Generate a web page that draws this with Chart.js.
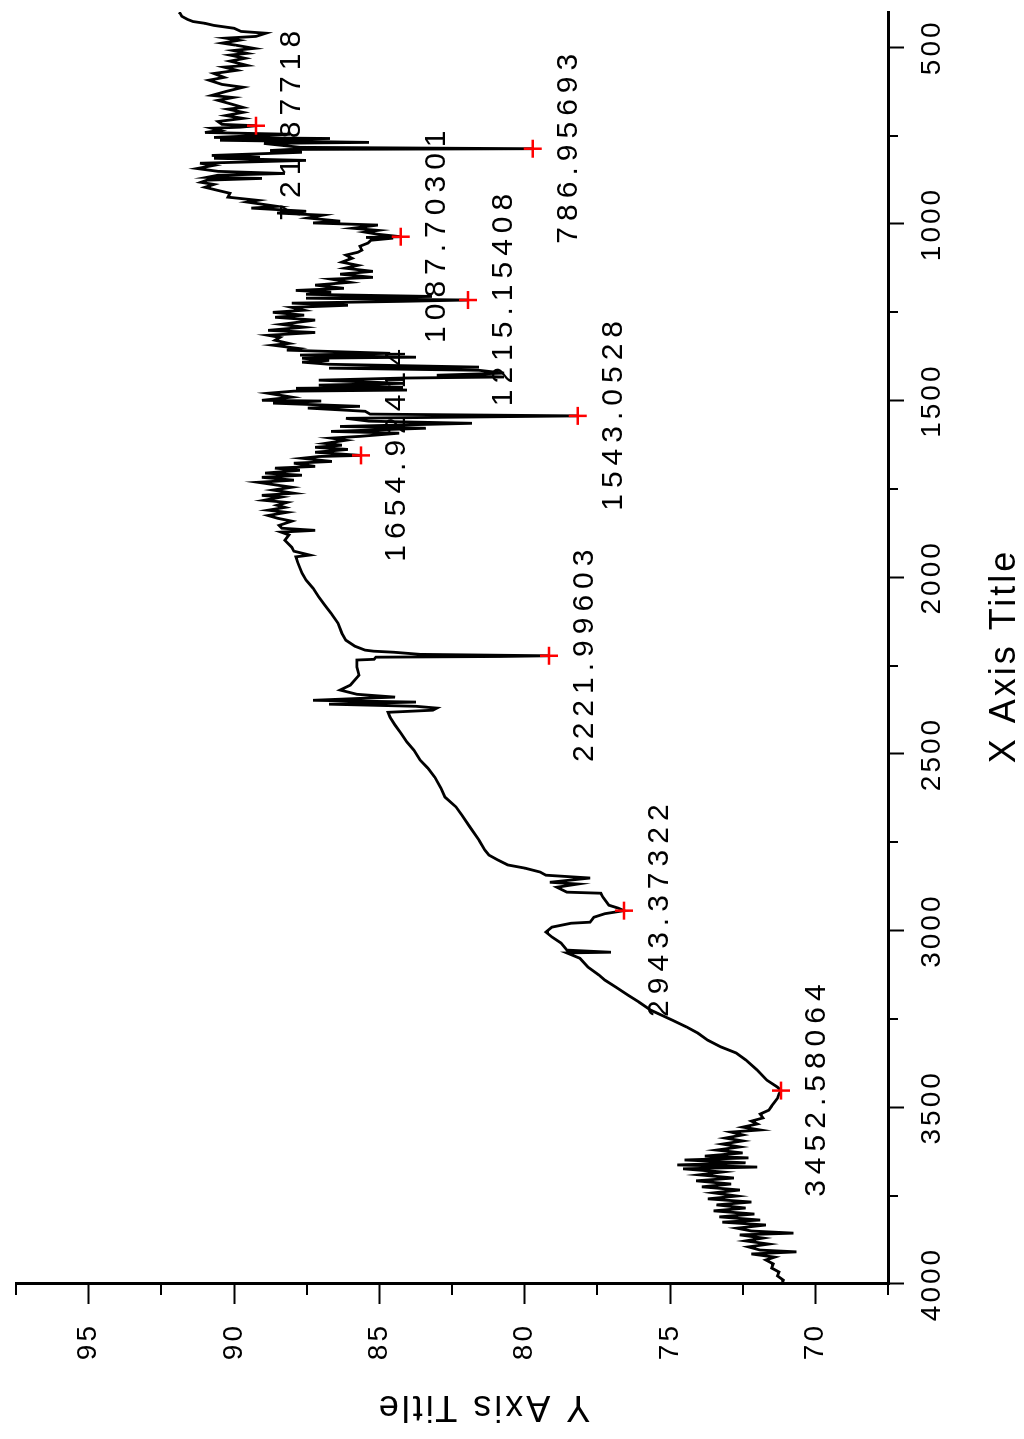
<!DOCTYPE html>
<html>
<head>
<meta charset="utf-8">
<script src="https://cdn.jsdelivr.net/npm/chart.js@4.4.1/dist/chart.umd.min.js"></script>
<style>
  html, body { margin: 0; padding: 0; width: 1024px; height: 1439px; background: #fff; overflow: hidden; }
  /* the chart is drawn in landscape and turned a quarter turn counter-clockwise */
  #wrap { position: absolute; left: 0; top: 0; width: 1439px; height: 1024px;
          transform-origin: 0 0; transform: translateY(1439px) rotate(-90deg); }
  canvas { display: block; }
</style>
</head>
<body>
<div id="wrap"><canvas id="spectrum" width="1439" height="1024"></canvas></div>
<script>
// IR spectrum, wavenumber (cm-1) vs transmittance (%)
const wavenumber = [
  4000,3989,3977,3966,3955,3943,3932,3924,3915,3909,
  3904,3895,3887,3878,3870,3861,3856,3850,3842,3833,
  3825,3819,3810,3802,3793,3785,3776,3768,3759,3751,
  3742,3734,3725,3717,3708,3700,3691,3683,3674,3669,
  3663,3657,3649,3643,3638,3629,3621,3612,3604,3595,
  3587,3578,3570,3564,3556,3547,3539,3530,3519,3508,
  3496,3485,3474,3462,3452.58,3443,3423,3394,3366,3346,
  3329,3310,3290,3273,3253,3225,3202,3182,3160,3140,
  3126,3103,3078,3063,3061,3055,3035,3018,3004,2990,
  2979,2976,2962,2952,2943.37,2936,2928,2905,2894,2891,
  2877,2868,2863,2851,2843,2834,2823,2814,2800,2786,
  2772,2744,2707,2673,2650,2622,2597,2566,2540,2517,
  2489,2466,2441,2418,2396,2382,2376,2370,2365,2359,
  2353,2348,2342,2339,2331,2319,2305,2277,2254,2234,
  2232,2226,2224,2222,2218,2212,2209,2206,2195,2178,
  2158,2130,2102,2079,2056,2031,2008,1988,1960,1942,
  1937,1926,1915,1895,1880,1872,1867,1861,1853,1841,
  1833,1825,1816,1810,1802,1796,1788,1782,1773,1768,
  1762,1753,1745,1739,1731,1725,1717,1711,1705,1697,
  1691,1686,1677,1672,1663,1658,1654.9,1646,1638,1632,
  1626,1621,1612,1606,1601,1592,1587,1578,1573,1564,
  1558,1550,1543.05,1538,1530,1521,1516,1507,1501,1499,
  1490,1479,1473,1470,1465,1462,1456,1451,1442,1436,
  1433,1428,1422,1414,1408,1405,1397,1391,1386,1380,
  1377,1371,1366,1357,1352,1343,1338,1329,1321,1315,
  1307,1301,1292,1284,1272,1264,1258,1250,1244,1236,
  1230,1224,1219,1215.15,1210,1205,1199,1193,1188,1182,
  1173,1165,1156,1151,1142,1134,1125,1117,1108,1097,
  1088,1080,1074,1063,1054,1046,1040,1038,1036,1029,
  1023,1018,1012,1003,997,992,983,975,969,964,
  955,950,938,933,924,913,905,896,888,882,
  876,871,868,862,857,851,843,834,828,820,
  814,811,806,797,792,789,786.96,783,772,769,
  763,758,755,746,741,735,729,726,721.88,718,
  710,701,693,684,675,670,661,650,642,636,
  625,613,605,593,585,574,565,556,551,539,
  531,522,517,509,503,494,488,480,474,469,
  460,455,446,438,432,427,421,412,404,401
]
const transmittance = [
  71.15,71.10,71.30,71.25,71.50,71.45,71.70,71.40,72.20,70.65,
  71.90,72.30,71.60,72.40,71.80,72.60,70.75,72.20,72.70,71.70,
  73.20,71.90,73.30,72.10,73.50,72.40,73.40,72.20,73.70,72.70,
  73.50,72.60,73.90,72.90,74.10,72.80,74.00,73.20,74.55,72.00,
  74.75,72.40,74.50,72.30,73.80,72.50,73.40,72.60,73.20,72.50,
  73.10,72.50,72.90,71.90,72.50,72.00,72.20,71.80,71.90,71.60,
  71.50,71.40,71.30,71.25,71.18,71.30,71.67,72.01,72.39,72.73,
  73.25,73.70,74.04,74.42,74.93,75.66,76.07,76.45,76.86,77.24,
  77.44,77.82,78.10,78.55,77.03,78.55,78.75,79.06,79.27,79.06,
  78.41,77.75,77.62,77.24,76.58,76.79,77.10,77.31,77.38,78.55,
  78.89,78.17,79.13,77.75,79.27,79.47,79.99,80.58,80.92,81.23,
  81.37,81.57,81.88,82.16,82.36,82.74,82.88,83.09,83.33,83.60,
  83.81,84.05,84.26,84.46,84.63,84.70,83.16,83.02,83.74,86.73,
  83.74,87.28,85.49,84.46,85.77,86.35,86.00,85.70,85.77,85.77,
  85.18,85.12,80.85,79.16,83.60,84.50,85.20,85.49,85.84,86.15,
  86.29,86.42,86.66,86.87,87.08,87.28,87.52,87.66,87.80,87.87,
  87.39,87.94,88.01,88.25,88.11,88.38,87.21,88.35,88.45,88.01,
  88.49,88.83,88.18,88.83,88.25,88.52,88.18,88.97,88.38,89.04,
  87.94,88.66,88.01,88.52,89.18,87.94,89.04,87.66,88.93,87.73,
  88.59,87.21,87.94,86.63,87.66,87.08,85.63,87.21,86.08,87.21,
  86.29,86.87,86.15,86.66,85.67,84.32,86.66,83.40,86.35,81.81,
  85.36,86.15,78.17,85.32,85.49,87.46,85.67,88.66,87.00,89.04,
  88.01,88.83,87.94,84.05,87.87,84.19,87.08,84.19,87.08,84.19,
  80.71,83.02,80.71,81.57,86.73,81.57,86.73,87.66,86.73,87.66,
  83.74,87.73,84.63,88.18,87.80,88.66,88.11,88.59,88.42,88.83,
  87.21,88.83,87.59,88.38,87.21,88.59,87.59,88.66,87.59,88.01,
  86.08,88.01,84.29,81.95,87.52,83.19,87.52,86.66,87.87,86.22,
  87.21,86.01,86.66,85.22,86.35,85.22,86.18,85.74,86.29,85.94,
  86.15,85.74,85.60,85.67,85.39,85.29,84.53,85.46,84.26,85.05,
  85.49,85.05,85.91,85.05,87.28,86.35,87.46,86.94,88.52,87.52,
  89.40,88.52,89.54,89.18,90.21,90.14,90.55,91.00,90.69,91.14,
  90.93,89.04,90.93,90.55,88.25,90.55,91.27,90.69,91.17,87.52,
  90.69,89.11,90.76,87.66,88.76,88.07,79.72,87.73,88.97,85.36,
  90.48,86.70,90.69,88.07,91.00,90.48,90.76,89.79,89.24,90.41,
  90.55,89.69,90.28,89.69,90.21,89.69,90.07,90.55,90.03,90.76,
  90.28,89.69,90.41,90.86,90.34,90.69,89.90,90.34,89.55,90.14,
  89.62,90.14,89.55,90.03,89.31,89.93,90.41,89.83,90.28,89.24,
  88.90,89.76,90.00,90.69,91.00,91.41,91.60,91.80,91.85,91.90
]

// picked peaks (red crosses) and their labels
const peakWn = [3452.58, 2943.37, 2222, 1654.9, 1543.05, 1215.15, 1036, 786.96, 721.88]
const peakT = [71.18, 76.58, 79.16, 85.63, 78.17, 81.95, 84.26, 79.72, 89.24]
const peakText = ['3452.58064', '2943.37322', '2221.99603', '1654.92414', '1543.0528',
                  '1215.15408', '1087.70301', '786.95693', '721.87718']

// ticks
const xMajor = [500, 1000, 1500, 2000, 2500, 3000, 3500, 4000]
const xMinor = [750, 1250, 1750, 2250, 2750, 3250, 3750]
const yMajor = [70, 75, 80, 85, 90, 95]
const yMinor = [67.5, 72.5, 77.5, 82.5, 87.5, 92.5, 97.5]
const xTitle = 'X Axis Title'
const yTitle = 'Y Axis Title'

const FONT = '"Liberation Sans", Arial, sans-serif'

// wider letter spacing for the tick labels (old bitmap font look)
const letterSpace = {
  id: 'letterSpace',
  beforeDraw(chart){ chart.ctx.letterSpacing = '3px' },
  afterDraw(chart){ chart.ctx.letterSpacing = '0px' }
}

// short minor ticks, same axes
const minorTicks = {
  id: 'minorTicks',
  afterDraw(chart){
    const {ctx, chartArea, scales: {x, y}} = chart
    ctx.save()
    ctx.strokeStyle = '#000'; ctx.lineWidth = 2
    ctx.beginPath()
    xMinor.forEach(v => { const px = Math.round(x.getPixelForValue(v)); ctx.moveTo(px, chartArea.bottom); ctx.lineTo(px, chartArea.bottom + 10) })
    yMinor.forEach(v => { const py = Math.round(y.getPixelForValue(v)); ctx.moveTo(chartArea.left, py); ctx.lineTo(chartArea.left - 11, py) })
    ctx.stroke()
    ctx.restore()
  }
}

// peak value labels under each cross (drawn before the curve so it runs over them)
const peakLabels = {
  id: 'peakLabels',
  beforeDatasetsDraw(chart){
    const {ctx, scales: {x, y}} = chart
    ctx.save()
    ctx.font = '30px ' + FONT
    ctx.letterSpacing = '6px'
    ctx.fillStyle = '#000'; ctx.textAlign = 'center'; ctx.textBaseline = 'alphabetic'
    peakWn.forEach((w, i) => {
      ctx.fillText(peakText[i], x.getPixelForValue(w) + 3, y.getPixelForValue(peakT[i]) + 44)
    })
    ctx.restore()
  }
}

const axisTitles = {
  id: 'axisTitles',
  afterDraw(chart){
    const {ctx, chartArea} = chart
    const cx = (chartArea.left + chartArea.right) / 2
    ctx.save()
    ctx.font = '36px ' + FONT
    ctx.letterSpacing = '3px'
    ctx.fillStyle = '#000'; ctx.textAlign = 'center'; ctx.textBaseline = 'alphabetic'
    ctx.fillText(xTitle, cx - 8, chartArea.bottom + 127)
    ctx.translate(43, chartArea.top + 467)
    ctx.rotate(-Math.PI / 2)
    ctx.fillText(yTitle, 0, 0)
    ctx.restore()
  }
}

new Chart(document.getElementById('spectrum'), {
  type: 'line',
  data: {
    datasets: [
      {
        label: 'peaks',
        data: peakWn.map((w, i) => ({x: w, y: peakT[i]})),
        showLine: false, pointStyle: 'cross', pointRadius: 9, pointBorderWidth: 2.5,
        pointBorderColor: '#ff0000', borderColor: '#ff0000', order: 0
      },
      {
        label: 'spectrum',
        data: wavenumber.map((w, i) => ({x: w, y: transmittance[i]})),
        borderColor: '#000', borderWidth: 2.8, pointRadius: 0, tension: 0, fill: false, order: 1
      }
    ]
  },
  options: {
    responsive: false, animation: false, devicePixelRatio: 1,
    layout: {autoPadding: false, padding: {top: 16, right: 12, left: 0, bottom: 0}},
    plugins: {legend: {display: false}, tooltip: {enabled: false}},
    scales: {
      x: {
        type: 'linear', position: 'bottom', min: 400, max: 4000, reverse: true,
        afterBuildTicks: s => { s.ticks = xMajor.map(v => ({value: v})) },
        afterFit: s => { s.height = 136; s.paddingLeft = 0; s.paddingRight = 0 },
        ticks: {callback: v => String(v), color: '#000', font: {size: 28, family: FONT}, padding: 11, maxRotation: 0, autoSkip: false},
        grid: {drawOnChartArea: false, drawTicks: true, tickLength: 16, tickWidth: 2, tickColor: '#000', color: '#000'},
        border: {display: true, color: '#000', width: 3}
      },
      y: {
        type: 'linear', position: 'left', min: 67.5, max: 97.5,
        afterBuildTicks: s => { s.ticks = yMajor.map(v => ({value: v})) },
        afterFit: s => { s.width = 155; s.paddingTop = 0; s.paddingBottom = 0 },
        ticks: {callback: v => String(v), color: '#000', font: {size: 28, family: FONT}, padding: 19, autoSkip: false},
        grid: {drawOnChartArea: false, drawTicks: true, tickLength: 20, tickWidth: 2, tickColor: '#000', color: '#000'},
        border: {display: true, color: '#000', width: 3}
      }
    }
  },
  plugins: [letterSpace, peakLabels, minorTicks, axisTitles]
})
</script>
</body>
</html>
